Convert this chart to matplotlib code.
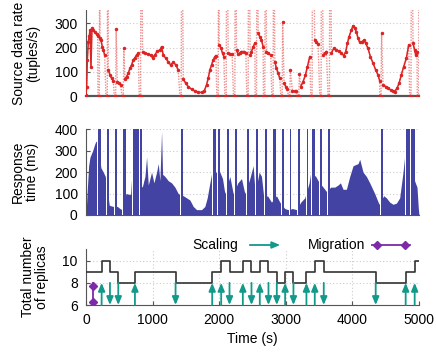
import numpy as np
import matplotlib
matplotlib.use('Agg')
import matplotlib.pyplot as plt

plt.rcParams['font.family'] = ['Liberation Sans', 'DejaVu Sans']
plt.rcParams['font.size'] = 10

# ---------------- data ----------------
# source data rate (tuples/s), base curve between reconfigurations
rate_t = [0, 10, 20, 35, 50, 60, 75, 90, 110, 135, 160, 175,
          210, 225, 245, 260, 280,
          335, 360, 385, 410,
          470, 495, 520,
          585, 610, 635, 660, 685, 710, 735, 760, 785,
          850, 885, 935, 970, 1000, 1035, 1070, 1110, 1135, 1160, 1200, 1235, 1270, 1310, 1350, 1385,
          1460, 1500, 1535, 1585, 1635, 1685, 1735, 1775, 1810, 1835, 1860, 1885, 1910, 1935, 1950,
          2000, 2025, 2050, 2070,
          2135, 2160, 2195,
          2260, 2285, 2310, 2335, 2375, 2400,
          2465, 2485, 2510, 2535,
          2585, 2610, 2635, 2660,
          2710, 2735, 2775,
          2835, 2860, 2885, 2910,
          2975, 3000, 3025,
          3100, 3135, 3160,
          3225, 3260, 3295, 3325, 3360,
          3435, 3460, 3485,
          3560, 3585, 3610,
          3685, 3720, 3760, 3800, 3835, 3870, 3900, 3925, 3950, 3985, 4010, 4035, 4060, 4085,
          4110, 4145, 4175, 4200, 4235, 4270, 4310, 4350, 4385, 4410,
          4460, 4500, 4535, 4575, 4610, 4635, 4670, 4700, 4735, 4770, 4810, 4845,
          4910, 4935, 4950, 4970]
rate_v = [5, 40, 150, 225, 250, 272, 122, 280, 272, 263, 255, 250,
          238, 231, 204, 190, 170,
          108, 88, 74, 63,
          60, 53, 47,
          71, 81, 95, 115, 129, 149, 159, 170, 177,
          181, 177, 174, 170, 159, 170, 186, 190, 204, 170, 156, 142, 129, 140, 129, 108,
          71, 53, 40, 29, 22, 16, 16, 22, 47, 74, 108, 129, 149, 163, 167,
          211, 200, 177, 163,
          177, 173, 173,
          190, 173, 177, 184, 184, 177,
          170, 184, 204, 218,
          259, 245, 232, 204,
          184, 177, 170,
          142, 115, 95, 74,
          53, 40, 30,
          22, 22, 22,
          40, 60, 88, 122, 163,
          231, 222, 214,
          170, 177, 184,
          177, 197, 190, 186, 177, 167, 184, 218, 245, 273, 290, 279, 266, 238,
          222, 225, 231, 218, 197, 163, 136, 108, 88, 63,
          47, 40, 33, 26, 22, 19, 33, 53, 88, 122, 156, 211,
          218, 190, 170, 184]
# times where the rate drops to zero, and the burst value right after (None = off scale)
dip_t = [190, 310, 435, 550, 810, 1420, 1975, 2095, 2225, 2425, 2550, 2675, 2800,
         2935, 3050, 3185, 3385, 3520, 3645, 4420, 4870, 4985]
dip_peak = [None, None, 275, 200, None, None, None, None, None, None, None, None, None,
            304, 108, 90, None, None, None, 259, None, None]

# response time (ms)
resp_t = [0, 20, 40, 60, 100, 130, 150, 165,
          225, 260, 290,
          350, 410,
          470, 510, 540,
          600, 670, 690,
          845, 885, 910, 935, 985, 1020, 1060, 1085, 1110, 1135, 1150, 1185, 1235, 1285, 1335, 1385,
          1460, 1510, 1560, 1610, 1660, 1735, 1785, 1820, 1860, 1890,
          2010, 2050, 2085,
          2160, 2210,
          2280, 2335, 2385,
          2460, 2510, 2540,
          2600, 2635, 2670,
          2725, 2785,
          2860, 2910,
          2985, 3035,
          3100, 3160,
          3225, 3285,
          3350, 3375,
          3450, 3485,
          3560, 3610,
          3675, 3735, 3785, 3820, 3860, 3910, 3960, 4010, 4085, 4110, 4160, 4210, 4260, 4335, 4400,
          4470, 4510, 4560, 4610, 4660, 4710, 4760, 4790,
          4945, 4970, 4990, 5000]
resp_v = [0, 120, 230, 270, 300, 330, 345, 340,
          220, 200, 180,
          45, 40,
          40, 30, 25,
          100, 95, 200,
          130, 180, 270, 140, 200, 150, 200, 240, 160, 390, 190, 180, 160, 150, 130, 100,
          90, 80, 70, 40, 25, 25, 40, 80, 150, 200,
          200, 170, 100,
          180, 100,
          150, 170, 100,
          170, 230, 100,
          200, 180, 80,
          90, 60,
          90, 60,
          30, 25,
          30, 25,
          60, 80,
          150, 200,
          180, 160,
          130, 110,
          130, 130, 140, 150, 120, 120, 180, 230, 240, 260, 200, 180, 150, 100, 50,
          90, 80, 60, 50, 55, 80, 200, 290,
          150, 130, 30, 0]
# saturated (off-scale) response periods
sat_start = [185, 310, 440, 560, 710, 815, 1420, 1910, 1975, 2115, 2240, 2415, 2555, 2685,
             2815, 2940, 3060, 3185, 3315, 3390, 3520, 3640, 4435, 4810, 4885]
sat_end = [220, 345, 460, 595, 800, 840, 1455, 1950, 2005, 2150, 2270, 2450, 2590, 2715,
           2850, 2970, 3085, 3215, 3340, 3440, 3550, 3665, 4460, 4860, 4935]

# replicas
scale_t = [235, 360, 485, 735, 1345, 1895, 2030, 2155, 2355, 2485, 2610, 2740, 2865,
           2990, 3115, 3310, 3435, 3570, 4350, 4800, 4935]
scale_dir = [1, -1, -1, 1, -1, 1, 1, -1, 1, -1, 1, -1, -1, 1, -1, 1, 1, -1, -1, 1, 1]
replicas = [10, 9, 8, 9, 8, 9, 10, 9, 10, 9, 10, 9, 8, 9, 8, 9, 10, 9, 8, 9, 10]
replicas_start = 9
migration_t = [100]

T_END = 5000
OFF = 1000

# ---------------- styling ----------------
RED = '#dd2424'
PINK = '#f08c8c'
BLUE = '#4343a3'
TEAL = '#12998a'
PURPLE = '#7d2aa8'
GRID = dict(color='#cccccc', linestyle=(0, (1, 2)), linewidth=0.8)
SPINE = '#555555'
ARROW = '-|>,head_length=0.6,head_width=0.25'

fig = plt.figure(figsize=(4.36, 3.54), dpi=100)
L, W = 0.1972, 0.7638
ax1 = fig.add_axes([L, 0.728, W, 0.2438])
ax2 = fig.add_axes([L, 0.3927, W, 0.242])
ax3 = fig.add_axes([L, 0.1384, W, 0.158])

for ax in (ax1, ax2, ax3):
    for s in ('top', 'right'):
        ax.spines[s].set_visible(False)
    ax.spines['left'].set_color(SPINE)
    ax.spines['bottom'].set_color(SPINE)
    ax.set_xlim(0, T_END)
    ax.tick_params(direction='in', length=3, color=SPINE, pad=6)
    ax.set_axisbelow(True)

# ---- top: source rate ----
pts = list(zip(rate_t, rate_v))
for d, p in zip(dip_t, dip_peak):
    pts += [(d - 10, 0), (d, 0), (d + 10, 0), (d + 18, OFF if p is None else p)]
pts.sort(key=lambda q: q[0])
ft = np.array([q[0] for q in pts], float)
fv = np.array([q[1] for q in pts], float)
ax1.plot(ft, fv, linestyle=(0, (1, 1)), color=PINK, lw=1.0, zorder=2)
bounds = [-1] + dip_t + [T_END + 1]
rt = np.array(rate_t)
rv = np.array(rate_v)
for a, b in zip(bounds[:-1], bounds[1:]):
    m = (rt > a) & (rt < b)
    if m.sum() > 1:
        ax1.plot(rt[m], rv[m], '-', color=RED, lw=1.1, zorder=3)
ax1.plot(ft, fv, linestyle='none', marker='.', ms=3, color=RED, zorder=4)
ax1.set_ylim(0, 355)
ax1.set_yticks([0, 100, 200, 300])
ax1.set_xticks([])
ax1.yaxis.grid(True, **GRID)
ax1.spines['bottom'].set_linewidth(1.6)
ax1.set_ylabel('Source data rate\n(tuples/s)', linespacing=1.0)
ax1.yaxis.set_label_coords(-0.139, 0.5)

# ---- middle: response time ----
ax2.fill_between(resp_t, resp_v, 0, color=BLUE, lw=0, zorder=2)
s0 = np.array(sat_start)
s1 = np.array(sat_end)
ax2.bar(s0 - 14, 500, width=14, align='edge', color='white', lw=0, zorder=3)
ax2.bar(s0, 500, width=s1 - s0, align='edge', color=BLUE, lw=0, zorder=4)
ax2.set_ylim(0, 400)
ax2.set_yticks([0, 100, 200, 300, 400])
ax2.set_xticks([])
ax2.yaxis.grid(True, **GRID)
ax2.set_ylabel('Response\ntime (ms)', linespacing=1.0)
ax2.yaxis.set_label_coords(-0.142, 0.5)

# ---- bottom: replicas ----
st = np.r_[0, scale_t, T_END]
sv = np.r_[replicas_start, replicas, replicas[-1]]
ax3.step(st, sv, where='post', color='#333333', lw=1.2, zorder=3)
for t, d in zip(scale_t, scale_dir):
    if d > 0:
        xy, xyt = (t, 8), (t, 6)
    else:
        xy, xyt = (t, 6), (t, 8)
    ax3.annotate('', xy=xy, xytext=xyt,
                 arrowprops=dict(arrowstyle=ARROW, color=TEAL, lw=1.3,
                                 shrinkA=0, shrinkB=0, mutation_scale=8),
                 zorder=4)
for t in migration_t:
    ax3.plot([t, t], [6, 8], color=PURPLE, lw=1.3, zorder=4)
    ax3.plot([t, t], [6.3, 7.7], linestyle='none', marker='D', ms=4, color=PURPLE, zorder=5)
ax3.set_ylim(6, 11.05)
ax3.set_yticks([6, 8, 10])
ax3.set_xticks([0, 1000, 2000, 3000, 4000, 5000])
ax3.grid(True, **GRID)
ax3.set_xlabel('Time (s)', labelpad=3)
ax3.set_ylabel('Total number\nof replicas', linespacing=1.0)
ax3.yaxis.set_label_coords(-0.11, 0.5)

# ---- legend (drawn manually above bottom panel) ----
ly = 1 - 245 / 354
fig.text(238 / 436, ly, 'Scaling', ha='right', va='center')
fig.add_artist(matplotlib.patches.FancyArrowPatch(
    (247 / 436, ly), (283 / 436, ly), transform=fig.transFigure,
    arrowstyle=ARROW, mutation_scale=8, color=TEAL, lw=1.3))
fig.text(365 / 436, ly, 'Migration', ha='right', va='center')
fig.add_artist(matplotlib.lines.Line2D([372 / 436, 410 / 436], [ly, ly],
                                       transform=fig.transFigure, color=PURPLE, lw=1.3))
fig.add_artist(matplotlib.lines.Line2D([377 / 436, 405 / 436], [ly, ly],
                                       transform=fig.transFigure, linestyle='none',
                                       marker='D', ms=4, color=PURPLE))

fig.savefig('out.png', dpi=100)
